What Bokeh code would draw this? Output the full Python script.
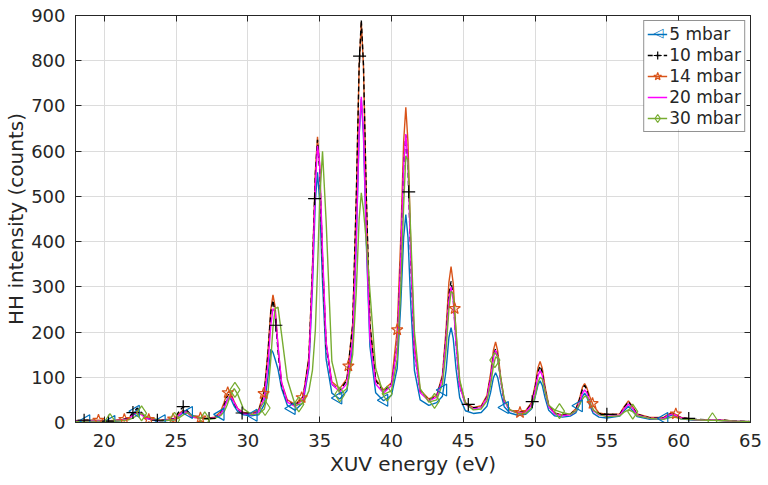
import numpy as np
from bokeh.plotting import figure
from bokeh.models import (Range1d, LinearAxis, Legend, LegendItem, FixedTicker, Label,
                          BoxAnnotation)
from bokeh.embed import file_html
from bokeh.resources import INLINE

# Photon energy grid (eV), shared by all spectra
energy = [
    18.0, 18.8, 19.6, 20.4, 21.1,
    21.7, 22.0, 22.3, 22.6, 22.9,
    23.9,
    24.9, 25.2, 25.5, 25.8, 26.1,
    27.1,
    27.7, 28.1, 28.35, 28.55, 28.7, 28.85, 29.05, 29.3, 29.7, 30.25,
    30.75, 31.15, 31.4, 31.6, 31.75, 31.9, 32.1, 32.35, 32.75, 33.3,
    33.85, 34.25, 34.5, 34.7, 34.85, 35.0, 35.2, 35.45, 35.85, 36.4,
    36.9, 37.3, 37.55, 37.75, 37.9, 38.05, 38.25, 38.5, 38.9, 39.45,
    40.0, 40.4, 40.65, 40.85, 41.0, 41.15, 41.35, 41.6, 42.0, 42.6,
    43.15, 43.55, 43.8, 44.0, 44.15, 44.3, 44.5, 44.75, 45.15, 45.7,
    46.25, 46.65, 46.9, 47.1, 47.25, 47.4, 47.6, 47.85, 48.25, 48.8,
    49.35, 49.75, 50.0, 50.2, 50.35, 50.5, 50.7, 50.95, 51.35, 51.9,
    52.45, 52.85, 53.1, 53.3, 53.45, 53.6, 53.8, 54.05, 54.45, 55.0,
    55.9, 56.2, 56.5, 56.8, 57.1, 58.0,
    58.95, 59.25, 59.55, 59.85, 60.15, 61.1,
    62.0, 62.3, 62.6, 62.9, 63.2, 64.0, 65.0,
]

# HH intensity (counts) for each gas pressure
counts_5mbar = [
    3, 4, 3, 2, 4,
    8, 20, 28, 20, 9,
    3,
    6, 14, 22, 25, 16,
    7,
    10, 18, 34, 50, 55, 50, 36, 24, 17, 15,
    17, 40, 100, 162, 155, 140, 118, 75, 38, 27,
    45, 120, 300, 490, 553, 490, 310, 140, 65, 52,
    70, 170, 396, 635, 715, 635, 396, 168, 66, 48,
    60, 120, 262, 410, 460, 410, 258, 115, 50, 38,
    44, 58, 115, 188, 210, 186, 118, 55, 26, 20,
    22, 36, 66, 99, 110, 99, 66, 35, 21, 16,
    18, 30, 56, 83, 92, 82, 54, 27, 15, 12,
    14, 22, 40, 58, 65, 57, 38, 20, 12, 10,
    14, 26, 36, 26, 13, 7,
    8, 13, 17, 13, 8, 5,
    5, 6, 6, 5, 4, 3, 2,
]
counts_10mbar = [
    4, 5, 4, 3, 5,
    10, 22, 32, 22, 10,
    4,
    9, 24, 35, 25, 12,
    8,
    10, 19, 38, 57, 63, 57, 42, 28, 20, 18,
    24, 68, 150, 245, 270, 242, 158, 82, 46, 38,
    56, 140, 340, 548, 625, 560, 360, 170, 85, 70,
    94, 215, 495, 790, 890, 792, 497, 217, 93, 68,
    85, 170, 365, 568, 635, 565, 355, 155, 68, 50,
    58, 100, 190, 282, 312, 278, 175, 80, 42, 33,
    34, 56, 100, 148, 163, 146, 95, 47, 27, 22,
    24, 41, 76, 112, 125, 111, 72, 36, 20, 16,
    18, 29, 51, 74, 82, 73, 48, 26, 20, 18,
    18, 33, 46, 33, 18, 10,
    10, 16, 20, 16, 11, 7,
    6, 6, 6, 5, 5, 3, 2,
]
counts_14mbar = [
    4, 5, 5, 4, 6,
    9, 18, 25, 19, 10,
    5,
    9, 19, 27, 22, 12,
    9,
    12, 24, 45, 64, 70, 63, 46, 31, 22, 20,
    28, 72, 158, 250, 282, 256, 168, 88, 50, 40,
    58, 145, 345, 555, 632, 566, 365, 175, 90, 75,
    97, 218, 494, 786, 885, 790, 497, 219, 96, 72,
    88, 205, 410, 622, 697, 620, 388, 170, 72, 52,
    60, 105, 205, 310, 345, 308, 196, 90, 44, 33,
    37, 60, 108, 160, 178, 158, 102, 50, 28, 23,
    26, 44, 82, 121, 135, 120, 78, 39, 21, 17,
    19, 31, 54, 78, 86, 77, 58, 38, 21, 18,
    19, 35, 48, 35, 19, 11,
    11, 18, 22, 17, 11, 7,
    6, 6, 6, 5, 5, 3, 2,
]
counts_20mbar = [
    3, 4, 4, 3, 5,
    8, 16, 22, 17, 9,
    4,
    8, 16, 24, 22, 12,
    8,
    10, 18, 33, 48, 56, 56, 44, 30, 20, 17,
    23, 55, 128, 215, 252, 245, 170, 88, 45, 35,
    52, 128, 320, 525, 612, 575, 380, 178, 85, 68,
    86, 184, 405, 640, 720, 645, 410, 186, 85, 65,
    82, 168, 362, 568, 638, 570, 360, 158, 66, 48,
    56, 96, 182, 270, 300, 270, 172, 80, 40, 30,
    33, 54, 96, 144, 160, 145, 96, 48, 27, 21,
    23, 38, 70, 103, 115, 104, 68, 35, 19, 15,
    17, 26, 45, 65, 72, 66, 46, 26, 17, 14,
    16, 30, 41, 31, 17, 9,
    9, 15, 19, 15, 10, 6,
    5, 6, 6, 5, 4, 3, 2,
]
counts_30mbar = [
    2, 3, 3, 3, 4,
    6, 10, 16, 20, 14,
    4,
    6, 10, 17, 22, 15,
    7,
    9, 15, 24, 38, 52, 65, 75, 62, 30, 18,
    18, 30, 65, 140, 210, 252, 255, 195, 95, 38,
    42, 70, 116, 204, 336, 490, 600, 446, 135, 62,
    75, 150, 290, 450, 508, 470, 400, 290, 120, 62,
    70, 140, 300, 480, 590, 580, 410, 200, 75, 45,
    50, 85, 160, 250, 290, 285, 200, 95, 42, 28,
    30, 48, 82, 125, 145, 142, 100, 52, 28, 20,
    20, 32, 58, 88, 100, 96, 68, 38, 28, 22,
    18, 26, 40, 52, 58, 57, 45, 28, 18, 13,
    15, 23, 28, 24, 15, 9,
    7, 10, 12, 11, 8, 6,
    5, 5, 5, 4, 4, 3, 2,
]

# Sparse marker samples along each spectrum
marks_5_x = [18.75, 20.5, 22.2, 24.0, 25.9, 28.1, 30.4, 33.05, 36.3, 39.5, 43.6, 47.9, 53.05, 59.0]
marks_5_y = [4, 2, 25, 4, 22, 18, 16, 31, 54, 49, 72, 33, 37, 9]
marks_10_x = [18.6, 20.3, 22.0, 23.7, 25.5, 27.3, 29.6, 31.95, 34.65, 37.78, 41.2, 45.35, 49.8, 55.0, 60.7]
marks_10_y = [5, 3, 22, 5, 35, 9, 21, 215, 495, 810, 510, 40, 46, 18, 9]
marks_14_x = [19.6, 21.4, 23.1, 24.8, 26.7, 28.6, 31.1, 33.75, 37.0, 40.4, 44.4, 48.95, 54.0, 59.8]
marks_14_y = [5, 7, 7, 8, 10, 66, 64, 55, 125, 205, 252, 22, 42, 19]
marks_30_x = [20.4, 22.6, 24.9, 27.0, 29.1, 31.2, 33.55, 36.4, 39.7, 43.0, 47.2, 51.7, 56.8, 62.35]
marks_30_y = [3, 20, 6, 7, 72, 32, 40, 62, 64, 48, 138, 25, 24, 5]

labels = ["5 mbar", "10 mbar", "14 mbar", "20 mbar", "30 mbar"]
x_ticks = [20, 25, 30, 35, 40, 45, 50, 55, 60, 65]
y_ticks = [0, 100, 200, 300, 400, 500, 600, 700, 800, 900]

FONT = "DejaVu Sans"
TXT = "#262626"

p = figure(width=768, height=485, x_range=Range1d(18, 65), y_range=Range1d(0, 900),
           output_backend="svg", toolbar_location=None,
           min_border_left=75, min_border_right=18, min_border_top=15, min_border_bottom=63)
p.background_fill_color = "white"
p.border_fill_color = "white"
p.outline_line_color = TXT
p.outline_line_width = 1

p.xaxis.ticker = FixedTicker(ticks=x_ticks)
p.yaxis.ticker = FixedTicker(ticks=y_ticks)
for ax in (p.xaxis[0], p.yaxis[0]):
    ax.major_tick_in = 6
    ax.major_tick_out = 0
    ax.minor_tick_line_color = None
    ax.axis_line_color = TXT
    ax.axis_line_width = 1
    ax.major_tick_line_color = TXT
    ax.major_label_text_font = FONT
    ax.major_label_text_font_size = "18px"
    ax.major_label_text_color = TXT
    ax.axis_label_text_font = FONT
    ax.axis_label_text_font_size = "20px"
    ax.axis_label_text_font_style = "normal"
    ax.axis_label_text_color = TXT
p.xaxis.axis_label = "XUV energy (eV)"
p.yaxis.axis_label = "HH intensity (counts)"
p.xaxis.major_label_standoff = 11
p.xaxis.axis_label_standoff = 2
p.yaxis.major_label_standoff = 10
p.yaxis.axis_label_standoff = 0

# Mirror ticks on the top and right edges of the box
top_ax = LinearAxis(ticker=FixedTicker(ticks=x_ticks))
right_ax = LinearAxis(ticker=FixedTicker(ticks=y_ticks))
for ax in (top_ax, right_ax):
    ax.major_tick_in = 6
    ax.major_tick_out = 0
    ax.minor_tick_line_color = None
    ax.axis_line_color = TXT
    ax.major_tick_line_color = TXT
    ax.major_label_text_font_size = "0px"
    ax.major_label_text_color = None
    ax.major_label_standoff = 0
p.add_layout(top_ax, "above")
p.add_layout(right_ax, "right")

p.xgrid.grid_line_color = "#dcdcdc"
p.ygrid.grid_line_color = "#dcdcdc"
p.grid.grid_line_width = 1

BLUE = "#0072BD"
ORANGE = "#D95319"
BLACK = "#000000"
MAGENTA = "#FF00FF"
GREEN = "#77AC30"
LW = 1.4

l5 = p.line(energy, counts_5mbar, line_color=BLUE, line_width=LW)
l14 = p.line(energy, counts_14mbar, line_color=ORANGE, line_width=LW)
l10 = p.line(energy, counts_10mbar, line_color=BLACK, line_width=LW, line_dash="5 3")
l20 = p.line(energy, counts_20mbar, line_color=MAGENTA, line_width=LW)
l30 = p.line(energy, counts_30mbar, line_color=GREEN, line_width=LW)

# left-pointing triangles
s5 = p.scatter(marks_5_x, marks_5_y, marker="triangle", angle=np.pi / 2, size=12,
               line_color=BLUE, fill_color=None, line_width=1.2)
s10 = p.scatter(marks_10_x, marks_10_y, marker="cross", size=13,
                line_color=BLACK, line_width=1.2)
s14 = p.scatter(marks_14_x, marks_14_y, marker="star", size=12,
                line_color=ORANGE, fill_color=None, line_width=1.2)
s30 = p.scatter(marks_30_x, marks_30_y, marker="diamond", size=15,
                line_color=GREEN, fill_color=None, line_width=1.2)

# white backing for the legend (screen units, relative to the plot frame)
p.add_layout(BoxAnnotation(left=568, right=671, top=402, bottom=293,
                           left_units="screen", right_units="screen",
                           top_units="screen", bottom_units="screen",
                           fill_color="white", fill_alpha=1.0, line_color=None))

# the legend cannot rotate its marker, so the 5 mbar key gets a left-pointing triangle glyph
p.add_layout(Label(x=583, y=390, x_units="screen", y_units="screen", text="\u25c1",
                   text_color=BLUE, text_font=FONT, text_font_size="13px",
                   text_align="center", text_baseline="middle"))

legend = Legend(items=[
    LegendItem(label=labels[0], renderers=[l5]),
    LegendItem(label=labels[1], renderers=[l10, s10]),
    LegendItem(label=labels[2], renderers=[l14, s14]),
    LegendItem(label=labels[3], renderers=[l20]),
    LegendItem(label=labels[4], renderers=[l30, s30]),
], location="top_right")
legend.margin = 5
legend.padding = 3
legend.spacing = 1
legend.glyph_width = 20
legend.glyph_height = 20
legend.label_height = 20
legend.label_standoff = 2
legend.label_text_font = FONT
legend.label_text_font_size = "17px"
legend.label_text_color = TXT
legend.border_line_color = TXT
legend.border_line_width = 1
legend.background_fill_alpha = 0
p.add_layout(legend)

open("out.html", "w").write(file_html(p, INLINE))
